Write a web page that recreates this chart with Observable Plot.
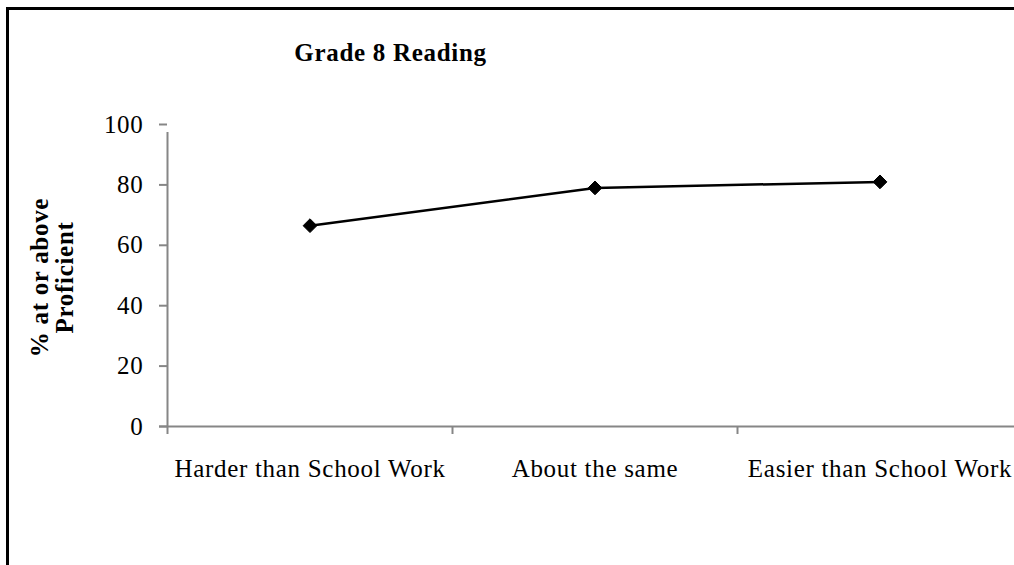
<!DOCTYPE html>
<html>
<head>
<meta charset="utf-8">
<script src="https://cdn.jsdelivr.net/npm/d3@7"></script>
<script src="https://cdn.jsdelivr.net/npm/@observablehq/plot@0.6"></script>
<style>
  html, body { margin: 0; padding: 0; background: #fff; }
  #wrap { position: relative; width: 1014px; height: 565px; overflow: hidden; }
  #border { position: absolute; left: 6px; top: 7px; right: -10px; bottom: -10px;
            border-left: 3px solid #000; border-top: 3px solid #000; pointer-events: none; }
  #wrap svg { position: absolute; left: 0; top: 0; }
  #wrap svg text { letter-spacing: 0.7px; }
  #wrap svg g[aria-label="chart title"] text { letter-spacing: 0.5px; }
  #wrap svg g[aria-label="y title"] text { letter-spacing: 0.9px; }
</style>
</head>
<body>
<div id="wrap"><div id="border"></div></div>
<script>
const categories = ["Harder than School Work", "About the same", "Easier than School Work"];
const values = [66.5, 79, 81];
const yTicks = [0, 20, 40, 60, 80, 100];
const title = "Grade 8 Reading";
const yTitle = "% at or above\nProficient";

const data = categories.map((c, i) => ({cat: c, pos: i + 0.5, value: values[i]}));
const boundaries = d3.range(categories.length + 1);
const centers = categories.map((c, i) => i + 0.5);

const font = "Liberation Serif, Times New Roman, serif";
const axisGray = "#868686";

const chart = Plot.plot({
  width: 1014,
  height: 565,
  marginLeft: 167,
  marginTop: 124,
  marginBottom: 139,
  marginRight: -8,
  style: {fontFamily: font, background: "transparent", overflow: "visible"},
  x: {domain: [0, categories.length], range: [167, 1022]},
  y: {domain: [0, 100], range: [426, 124]},
  marks: [
    // y axis
    Plot.axisY({ticks: yTicks, tickSize: 8, tickPadding: 16, stroke: axisGray, strokeWidth: 2,
                fontSize: 25, fill: "#000", label: null, tickFormat: d => String(d)}),
    Plot.ruleX([0], {y1: 0, y2: 100, stroke: axisGray, strokeWidth: 2, insetBottom: -8}),
    // x axis line and ticks (category boundaries)
    Plot.ruleY([0], {stroke: axisGray, strokeWidth: 2, insetLeft: -8}),
    Plot.axisX({ticks: boundaries, tickSize: 8, stroke: axisGray, strokeWidth: 2, text: null, label: null}),
    // category labels
    Plot.axisX({ticks: centers, tickSize: 0, tickPadding: 33, fontSize: 25, fill: "#000",
                tickFormat: d => categories[Math.round(d - 0.5)], label: null}),
    // data
    Plot.line(data, {x: "pos", y: "value", stroke: "#000", strokeWidth: 2.5}),
    Plot.dot(data, {x: "pos", y: "value", symbol: "diamond2", r: 6.2, fill: "#000", stroke: "#000", strokeWidth: 1}),
    // titles
    Plot.text([title], {frameAnchor: "top-left", dx: 223, dy: -72, text: d => d, fontSize: 25, ariaLabel: "chart title",
                        fontWeight: "bold", textAnchor: "middle", lineAnchor: "middle", fill: "#000"}),
    Plot.text([yTitle], {frameAnchor: "left", dx: -115, dy: 2, text: d => d, rotate: -90, fontSize: 25, ariaLabel: "y title",
                         fontWeight: "bold", textAnchor: "middle", lineAnchor: "middle", lineHeight: 1.0, fill: "#000"})
  ]
});
document.getElementById("wrap").insertBefore(chart, document.getElementById("border"));
</script>
</body>
</html>
